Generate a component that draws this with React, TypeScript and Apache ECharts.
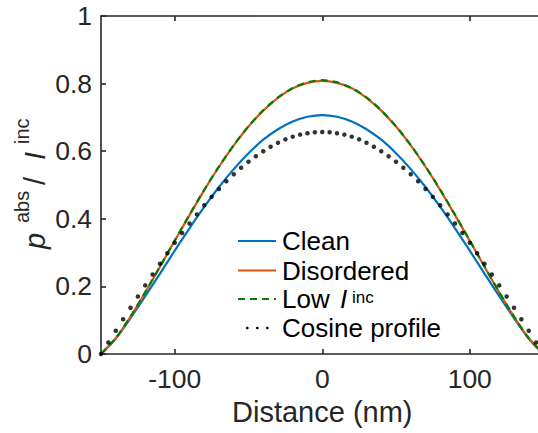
import React, { useEffect, useRef } from "react";
import * as echarts from "echarts";

// Distance (nm) sampled every 10 nm for the simulated curves
const distance10 = [
  -150, -140, -130, -120, -110, -100, -90, -80, -70, -60, -50, -40, -30, -20, -10,
  0, 10, 20, 30, 40, 50, 60, 70, 80, 90, 100, 110, 120, 130, 140, 150,
];
const cleanValues = [
  0, 0.046, 0.106, 0.171, 0.238, 0.306, 0.372, 0.435, 0.494, 0.547, 0.594, 0.634, 0.665, 0.688, 0.702,
  0.707, 0.702, 0.688, 0.665, 0.634, 0.594, 0.547, 0.494, 0.435, 0.372, 0.306, 0.238, 0.171, 0.106, 0.046, 0,
];
const disorderedValues = [
  0, 0.046, 0.11, 0.182, 0.258, 0.335, 0.411, 0.485, 0.554, 0.617, 0.673, 0.72, 0.758, 0.786, 0.802,
  0.808, 0.802, 0.786, 0.758, 0.72, 0.673, 0.617, 0.554, 0.485, 0.411, 0.335, 0.258, 0.182, 0.11, 0.046, 0,
];
const lowIncValues = [
  0, 0.047, 0.111, 0.183, 0.259, 0.336, 0.412, 0.486, 0.555, 0.618, 0.674, 0.721, 0.759, 0.787, 0.804,
  0.81, 0.804, 0.787, 0.759, 0.721, 0.674, 0.618, 0.555, 0.486, 0.412, 0.336, 0.259, 0.183, 0.111, 0.047, 0,
];
// Cosine profile, sampled every 5 nm
const distance5 = [
  -150, -145, -140, -135, -130, -125, -120, -115, -110, -105, -100, -95, -90, -85, -80, -75, -70, -65, -60, -55,
  -50, -45, -40, -35, -30, -25, -20, -15, -10, -5, 0, 5, 10, 15, 20, 25, 30, 35, 40, 45, 50, 55, 60, 65, 70,
  75, 80, 85, 90, 95, 100, 105, 110, 115, 120, 125, 130, 135, 140, 145, 150,
];
const cosineValues = [
  0, 0.034, 0.069, 0.103, 0.137, 0.17, 0.203, 0.235, 0.267, 0.298, 0.329, 0.358, 0.386, 0.413, 0.44, 0.465,
  0.488, 0.511, 0.532, 0.551, 0.569, 0.585, 0.6, 0.613, 0.625, 0.635, 0.643, 0.649, 0.653, 0.656, 0.657,
  0.656, 0.653, 0.649, 0.643, 0.635, 0.625, 0.613, 0.6, 0.585, 0.569, 0.551, 0.532, 0.511, 0.488, 0.465,
  0.44, 0.413, 0.386, 0.358, 0.329, 0.298, 0.267, 0.235, 0.203, 0.17, 0.137, 0.103, 0.069, 0.034, 0,
];
const xTicks = [-100, 0, 100];
const yTicks = [0, 0.2, 0.4, 0.6, 0.8, 1];
const legendNames = ["Clean", "Disordered", "Low", "Cosine profile"];

const FONT = "'Liberation Sans', Arial, Helvetica, sans-serif";
const AXIS = "#262626";
const C_BLUE = "#0072BD";
const C_ORANGE = "#D95319";
const C_GREEN = "#008000";

const pairs = (xs: number[], ys: number[]) => xs.map((x, i) => [x, ys[i]]);

export default function App() {
  const ref = useRef<HTMLDivElement>(null);
  useEffect(() => {
    if (!ref.current) return;
    const chart = echarts.init(ref.current, undefined, { renderer: "svg" });
    const axisCommon = {
      type: "value" as const,
      axisLine: { show: true, onZero: false, lineStyle: { color: AXIS, width: 1.6 } },
      splitLine: { show: false },
    };
    const tickStyle = { color: AXIS, width: 1.6 };
    const legendRowsY = [241, 270.5, 299, 328];
    const legendX1 = 238;
    const legendX2 = 276;
    const textX = 282;
    const legendText = (i: number) => ({
      type: "text",
      x: textX,
      y: legendRowsY[i],
      style: { text: legendNames[i], font: `26px ${FONT}`, fill: "#000", verticalAlign: "middle", align: "left" },
    });
    const yLabelFS = 29;
    const supFS = 20;
    chart.setOption({
      animation: false,
      grid: { left: 101, right: 16.5, top: 16, bottom: 79 },
      xAxis: [
        {
          ...axisCommon,
          min: -150,
          max: 150,
          interval: 50,
          position: "bottom",
          axisTick: { show: true, inside: true, length: 5, lineStyle: tickStyle, customValues: xTicks },
          axisLabel: { show: true, color: AXIS, fontSize: 26.5, fontFamily: FONT, margin: 11,
            customValues: xTicks },
          name: "Distance (nm)",
          nameLocation: "middle",
          nameGap: 43,
          nameTextStyle: { color: AXIS, fontSize: 29, fontFamily: FONT },
        },
        {
          ...axisCommon,
          min: -150,
          max: 150,
          interval: 50,
          position: "top",
          axisTick: { show: true, inside: true, length: 5, lineStyle: tickStyle, customValues: xTicks },
          axisLabel: { show: false },
        },
      ],
      yAxis: [
        {
          ...axisCommon,
          min: 0,
          max: 1,
          interval: 0.2,
          position: "left",
          axisTick: { show: true, inside: true, length: 5, lineStyle: tickStyle, customValues: yTicks },
          axisLabel: { show: true, color: AXIS, fontSize: 26.5, fontFamily: FONT, margin: 9,
            customValues: yTicks, formatter: (v: number) => String(Number(v.toFixed(1))) },
        },
        {
          ...axisCommon,
          min: 0,
          max: 1,
          interval: 0.2,
          position: "right",
          axisTick: { show: true, inside: true, length: 5, lineStyle: tickStyle },
          axisLabel: { show: false },
        },
      ],
      series: [
        {
          name: "Clean",
          type: "line",
          data: pairs(distance10, cleanValues),
          showSymbol: false,
          smooth: 0.25,
          lineStyle: { color: C_BLUE, width: 2.2 },
          z: 2,
        },
        {
          name: "Disordered",
          type: "line",
          data: pairs(distance10, disorderedValues),
          showSymbol: false,
          smooth: 0.25,
          lineStyle: { color: C_ORANGE, width: 2.2 },
          z: 3,
        },
        {
          name: "Low I inc",
          type: "line",
          data: pairs(distance10, lowIncValues),
          showSymbol: false,
          smooth: 0.25,
          lineStyle: { color: C_GREEN, width: 2.2, type: [7, 5] },
          z: 4,
        },
        {
          name: "Cosine profile",
          type: "scatter",
          data: pairs(distance5, cosineValues),
          symbol: "circle",
          symbolSize: 4.5,
          itemStyle: { color: "#000" },
          z: 5,
        },
      ],
      graphic: [
        // legend
        { type: "line", shape: { x1: legendX1, y1: legendRowsY[0], x2: legendX2, y2: legendRowsY[0] },
          style: { stroke: C_BLUE, lineWidth: 2.2 } },
        { type: "line", shape: { x1: legendX1, y1: legendRowsY[1], x2: legendX2, y2: legendRowsY[1] },
          style: { stroke: C_ORANGE, lineWidth: 2.2 } },
        { type: "line", shape: { x1: legendX1, y1: legendRowsY[2], x2: legendX2, y2: legendRowsY[2] },
          style: { stroke: C_GREEN, lineWidth: 2.2, lineDash: [7, 5] } },
        { type: "circle", shape: { cx: 247.3, cy: legendRowsY[3], r: 1.3 }, style: { fill: "#000" } },
        { type: "circle", shape: { cx: 257.3, cy: legendRowsY[3], r: 1.3 }, style: { fill: "#000" } },
        { type: "circle", shape: { cx: 267.3, cy: legendRowsY[3], r: 1.3 }, style: { fill: "#000" } },
        legendText(0),
        legendText(1),
        legendText(2),
        { type: "text", x: 340, y: legendRowsY[2],
          style: { text: "I", font: `italic 26px ${FONT}`, fill: "#000", verticalAlign: "middle" } },
        { type: "text", x: 352, y: 297,
          style: { text: "inc", font: `17px ${FONT}`, fill: "#000", verticalAlign: "middle" } },
        legendText(3),
        // y-axis label, rotated
        {
          type: "group",
          x: 45,
          y: 249,
          rotation: Math.PI / 2,
          children: [
            { type: "text", x: 0, y: -0.35 * yLabelFS,
              style: { text: "p", font: `italic ${yLabelFS}px ${FONT}`, fill: AXIS, verticalAlign: "middle" } },
            { type: "text", x: 26, y: -16 - 0.35 * supFS,
              style: { text: "abs", font: `${supFS}px ${FONT}`, fill: AXIS, verticalAlign: "middle" } },
            { type: "text", x: 64, y: -0.35 * yLabelFS,
              style: { text: "/", font: `${yLabelFS}px ${FONT}`, fill: AXIS, verticalAlign: "middle" } },
            { type: "text", x: 89, y: -0.35 * yLabelFS,
              style: { text: "I", font: `italic ${yLabelFS}px ${FONT}`, fill: AXIS, verticalAlign: "middle" } },
            { type: "text", x: 105, y: -16 - 0.35 * supFS,
              style: { text: "inc", font: `${supFS}px ${FONT}`, fill: AXIS, verticalAlign: "middle" } },
          ],
        },
      ],
    });
    return () => chart.dispose();
  }, []);
  return (
    <div style={{ position: "absolute", left: 0, top: 0, width: 538, height: 433, overflow: "hidden", background: "#fff" }}>
      <div ref={ref} style={{ width: 560, height: 433 }} />
    </div>
  );
}
